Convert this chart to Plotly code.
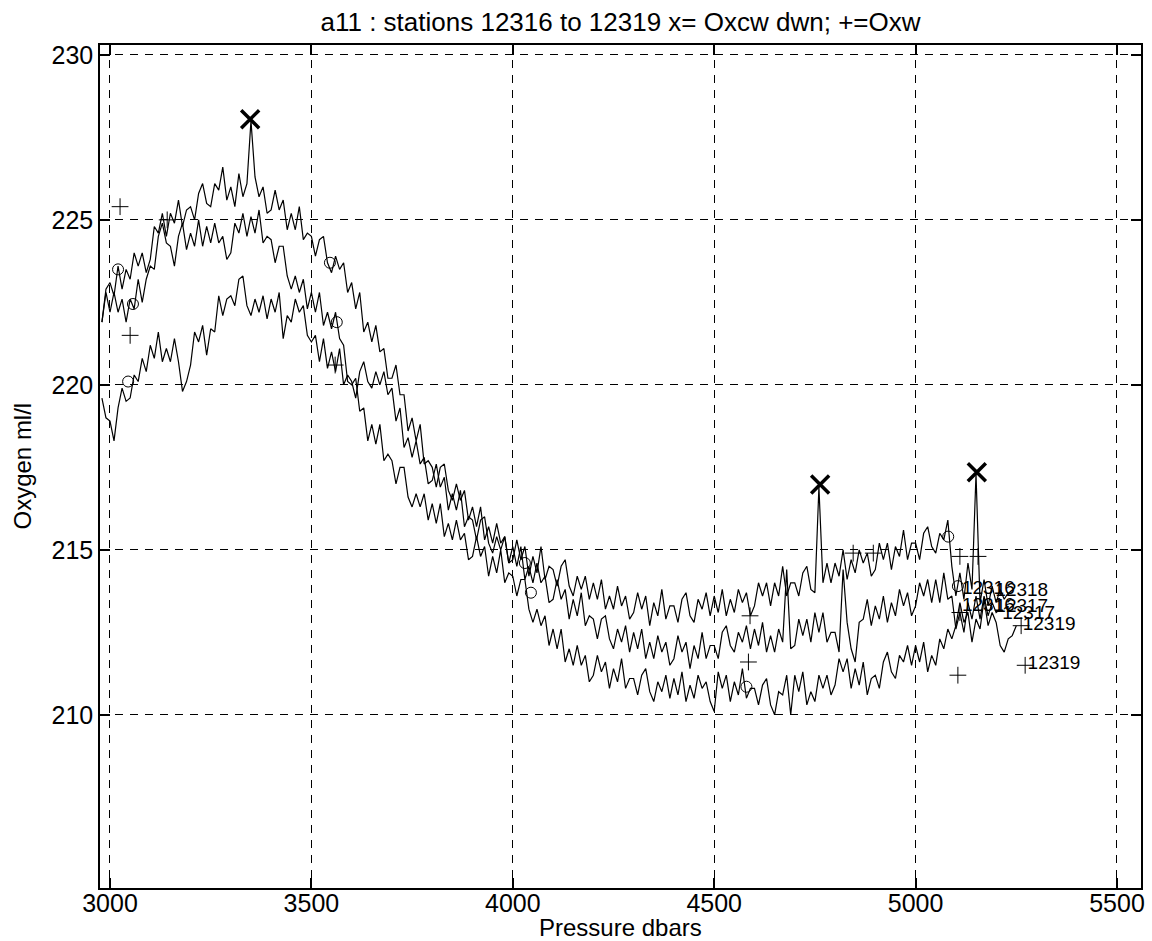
import plotly.graph_objects as go

# ---------------- data ----------------
pressure = list(range(2980, 5251, 10))  # dbar sampling grid

# station trace 1 (upper band, ends with label 12318)
oxy_a = [221.9, 222.9,
 223.1, 222.7, 223.6, 222.9, 223.5, 223.2, 224.0, 223.6, 224.0, 223.4,
 223.8, 224.8, 224.6, 225.2, 224.5, 225.2, 224.9, 225.6, 224.8, 225.3,
 225.4, 225.0, 225.8, 226.1, 225.5, 225.4, 226.1, 225.9, 226.6, 225.6,
 226.0, 225.4, 226.4, 225.7, 226.1, 228.0, 226.3, 225.7, 226.0, 225.2,
 225.3, 225.9, 225.3, 225.6, 224.7, 225.2, 224.7, 225.4, 224.4, 224.6,
 224.5, 223.9, 224.4, 224.5, 223.7, 223.4, 223.9, 223.5, 223.7, 222.8,
 223.1, 222.3, 222.8, 221.6, 221.9, 221.3, 221.8, 221.0, 221.1, 220.2,
 220.2, 220.6, 219.7, 219.7, 218.6, 219.0, 218.3, 218.8, 217.6, 217.7,
 217.5, 216.9, 217.5, 217.6, 216.8, 216.5, 217.0, 216.5, 216.8, 215.9,
 216.3, 215.7, 216.3, 215.3, 215.7, 215.2, 215.8, 215.2, 215.4, 214.6,
 214.7, 215.3, 214.7, 215.1, 214.2, 214.8, 214.3, 215.1, 214.1, 214.5,
 214.4, 213.9, 214.5, 214.7, 213.9, 213.6, 214.2, 213.8, 214.2, 213.5,
 214.0, 213.5, 214.1, 213.2, 213.6, 213.2, 213.9, 213.3, 213.6, 212.9,
 213.1, 213.7, 213.2, 213.6, 212.7, 213.4, 213.0, 213.8, 212.9, 213.3,
 213.3, 212.8, 213.5, 213.7, 213.0, 212.8, 213.5, 213.2, 213.7, 213.0,
 213.6, 213.1, 213.8, 213.0, 213.5, 213.1, 213.8, 213.4, 213.7, 213.0,
 213.3, 214.0, 213.6, 214.0, 213.3, 214.0, 213.6, 214.5, 213.6, 214.0,
 214.0, 213.6, 214.3, 214.5, 213.8, 213.7, 216.9, 214.0, 214.6, 214.0,
 214.6, 214.2, 215.0, 214.1, 214.7, 214.3, 215.0, 214.6, 214.9, 214.2,
 214.4, 215.2, 214.7, 215.2, 214.4, 215.1, 214.8, 215.6, 214.7, 215.2,
 215.2, 214.7, 215.5, 215.7, 215.1, 214.9, 215.5, 215.3, 215.9, 214.5,
 213.6, 214.3, 213.5, 214.6, 213.8, 217.3, 213.4, 214.1, 213.3, 213.9,
 213.4, 213.8, 213.5, 213.7, None, None]

# station trace 2 (middle early, lowest band later, ends with label 12319)
oxy_b = [221.9, 222.8,
 222.2, 222.8, 222.2, 222.6, 221.9, 222.6, 222.3, 223.2, 222.5, 223.2,
 223.6, 223.5, 224.5, 224.9, 224.3, 224.2, 223.6, 224.5, 224.9, 224.1,
 224.6, 224.2, 225.0, 224.2, 224.8, 224.3, 224.9, 224.3, 224.5, 223.8,
 224.0, 224.9, 224.6, 225.2, 224.5, 225.1, 224.6, 225.3, 224.3, 224.5,
 224.4, 223.7, 224.2, 224.2, 223.3, 222.9, 223.3, 222.8, 223.2, 222.3,
 222.8, 222.2, 222.8, 221.8, 222.2, 221.7, 222.2, 221.4, 221.2, 220.1,
 220.0, 220.2, 219.2, 219.3, 218.3, 218.8, 218.2, 218.8, 217.7, 217.9,
 217.7, 217.0, 217.5, 217.5, 216.6, 216.3, 216.7, 216.3, 216.7, 215.9,
 216.4, 215.8, 216.4, 215.4, 215.8, 215.3, 215.9, 215.3, 215.5, 214.7,
 214.8, 215.4, 214.8, 215.1, 214.2, 214.8, 214.3, 215.0, 214.0, 214.3,
 214.2, 213.6, 214.1, 214.1, 213.2, 212.8, 213.2, 212.7, 213.0, 212.1,
 212.6, 212.0, 212.6, 211.6, 212.0, 211.5, 212.1, 211.5, 211.8, 211.0,
 211.2, 211.8, 211.3, 211.6, 210.8, 211.4, 211.0, 211.7, 210.8, 211.1,
 211.1, 210.6, 211.2, 211.4, 210.7, 210.4, 211.0, 210.7, 211.2, 210.5,
 211.1, 210.6, 211.3, 210.4, 210.9, 210.5, 211.2, 210.8, 211.0, 210.4,
 210.1, 211.3, 210.8, 211.2, 210.4, 211.0, 210.6, 211.4, 210.5, 210.8,
 210.8, 210.3, 210.9, 211.1, 210.3, 210.0, 210.7, 210.6, 211.2, 210.0,
 211.2, 210.7, 211.3, 210.3, 210.7, 210.4, 211.2, 210.8, 211.2, 210.6,
 210.9, 211.7, 211.3, 211.7, 210.8, 211.4, 210.9, 211.6, 210.6, 211.1,
 211.2, 210.8, 211.6, 211.9, 211.3, 211.1, 211.8, 211.6, 212.1, 211.5,
 212.1, 211.6, 212.2, 211.3, 211.8, 211.5, 212.3, 212.0, 212.6, 212.3,
 212.7, 213.4, 212.8, 213.1, 212.2, 212.9, 212.6, 213.5, 212.7, 213.1,
 212.8, 212.1, 211.9, 212.3, 212.4, 212.7]

# station trace 3 (lowest early, middle band later, ends with label 12317)
oxy_c = [219.6, 219.0,
 218.9, 218.3, 219.3, 219.9, 219.5, 219.6, 220.3, 220.1, 220.8, 220.4,
 221.2, 220.8, 221.6, 220.7, 221.1, 220.7, 221.4, 220.7, 219.8, 220.1,
 220.6, 221.6, 221.3, 221.8, 220.9, 221.7, 221.6, 222.7, 222.1, 222.6,
 222.7, 222.4, 223.2, 223.3, 222.4, 222.1, 222.6, 222.2, 222.7, 222.0,
 222.6, 222.2, 222.8, 221.4, 222.1, 221.9, 222.6, 222.2, 222.4, 221.5,
 221.3, 221.5, 220.7, 221.4, 220.5, 221.0, 220.4, 221.1, 220.0, 220.3,
 220.1, 219.6, 220.4, 220.7, 220.1, 219.9, 220.4, 220.0, 220.4, 219.7,
 219.9, 218.9, 219.3, 218.1, 218.4, 217.8, 218.3, 217.6, 217.8, 217.0,
 217.1, 217.6, 216.9, 217.2, 216.2, 216.7, 216.2, 216.8, 215.7, 216.0,
 215.9, 215.3, 215.9, 216.0, 215.2, 214.9, 215.4, 215.0, 215.4, 214.6,
 215.1, 214.5, 215.1, 214.1, 214.5, 214.0, 214.6, 214.0, 214.2, 213.4,
 213.5, 214.1, 213.5, 213.8, 212.9, 213.5, 213.0, 213.7, 212.7, 213.0,
 212.9, 212.3, 212.9, 213.0, 212.3, 212.0, 212.6, 212.2, 212.7, 211.9,
 212.5, 212.0, 212.6, 211.7, 212.2, 211.7, 212.4, 211.9, 212.2, 211.5,
 211.7, 212.4, 211.9, 212.2, 211.4, 212.1, 211.7, 212.5, 211.7, 212.1,
 212.1, 211.7, 212.5, 212.7, 212.1, 211.9, 212.5, 212.2, 212.7, 212.0,
 212.6, 212.1, 212.8, 211.9, 212.4, 211.9, 212.6, 212.2, 214.4, 212.0,
 212.1, 212.9, 212.4, 212.9, 212.2, 213.1, 212.5, 213.1, 212.2, 212.5,
 212.5, 211.9, 214.4, 212.8, 212.0, 211.6, 212.8, 212.9, 213.5, 212.7,
 213.3, 212.9, 213.6, 212.8, 213.4, 213.0, 213.8, 213.3, 213.7, 213.0,
 213.3, 214.0, 213.6, 214.1, 213.4, 214.1, 213.4, 214.3, 213.5, 213.6,
 212.6, 213.1, 212.5, 213.4, 212.9, 213.6, 212.9, 213.6, 213.0, 213.4,
 213.1, 213.2, None, None, None, None]

# x = Oxcw downcast outliers
oxcw_p = [3348, 4763, 5152]
oxcw_v = [228.05, 216.98, 217.35]

# + = Oxw bottle values
oxw_p = [3025, 3050, 3142, 3559, 4585, 4589, 4845, 4895, 5105, 5110, 5110, 5155, 5262, 5272]
oxw_v = [225.4, 221.5, 225.0, 220.6, 211.6, 213.0, 214.9, 214.9, 211.2, 214.8, 213.1, 214.8, 212.7, 211.5]

# o markers
circ_p = [3020, 3045, 3057, 3546, 3563, 4030, 4045, 4580, 5081, 5105]
circ_v = [223.5, 220.1, 222.45, 223.7, 221.9, 214.6, 213.7, 210.85, 215.4, 213.9]

# station labels
lab_p = [5115, 5198, 5115, 5198, 5215, 5266, 5278]
lab_v = [213.8, 213.75, 213.3, 213.25, 213.05, 212.72, 211.52]
lab_t = ["12316", "12318", "12316", "12317", "12317", "12319", "12319"]

x_ticks = [3000, 3500, 4000, 4500, 5000, 5500]
y_ticks = [210, 215, 220, 225, 230]

FONT = "Liberation Sans, Arial, Helvetica, sans-serif"

# ---------------- figure ----------------
fig = go.Figure()
for name, vals in (("12318", oxy_a), ("12319", oxy_b), ("12317", oxy_c)):
    fig.add_trace(go.Scatter(x=pressure, y=vals, mode="lines", name=name,
                             line=dict(color="black", width=1.2),
                             connectgaps=False, showlegend=False))

fig.add_trace(go.Scatter(x=circ_p, y=circ_v, mode="markers", showlegend=False,
                         marker=dict(symbol="circle-open", size=11,
                                     color="black", line=dict(width=1))))
fig.add_trace(go.Scatter(x=oxw_p, y=oxw_v, mode="markers", showlegend=False,
                         marker=dict(symbol="cross-thin", size=12,
                                     color="black", line=dict(width=1, color="black"))))
fig.add_trace(go.Scatter(x=oxcw_p, y=oxcw_v, mode="markers", showlegend=False,
                         marker=dict(symbol="x-thin", size=18,
                                     color="black", line=dict(width=3.5, color="black"))))
fig.add_trace(go.Scatter(x=lab_p, y=lab_v, mode="text", text=lab_t,
                         textposition="middle right", showlegend=False,
                         textfont=dict(family=FONT, size=19, color="black")))

axis_common = dict(
    showgrid=True, gridcolor="black", gridwidth=1, griddash="8px,7px",
    showline=True, linecolor="black", linewidth=1.5, mirror="ticks",
    ticks="inside", ticklen=10, tickwidth=1.5, tickcolor="black",
    zeroline=False, automargin=False,
    tickfont=dict(family=FONT, size=25, color="black"),
)

fig.update_layout(
    width=1152, height=941,
    margin=dict(l=100, r=11, t=45, b=53),
    paper_bgcolor="white", plot_bgcolor="white",
    title=dict(text="a11 : stations 12316 to 12319 x= Oxcw dwn; +=Oxw",
               x=0.5, xref="paper", xanchor="center",
               y=1 - 22 / 941, yref="container", yanchor="middle",
               font=dict(family=FONT, size=26, color="black")),
    xaxis=dict(range=[2975.2, 5559.6], tickvals=x_ticks,
               ticklabelstandoff=-8, **axis_common),
    yaxis=dict(range=[204.75, 230.3], tickvals=y_ticks, **axis_common),
    annotations=[
        dict(text="Pressure dbars", x=0.5, y=-(927 - 888) / 843,
             xref="paper", yref="paper", xanchor="center", yanchor="middle",
             showarrow=False, font=dict(family=FONT, size=24, color="black")),
        dict(text="Oxygen ml/l", x=(22 - 100) / 1041, y=0.5, textangle=-90,
             xref="paper", yref="paper", xanchor="center", yanchor="middle",
             showarrow=False, font=dict(family=FONT, size=24, color="black")),
    ],
)

# remove the default page margin so the figure starts at the window corner
fig.write_html("out.html", config={"displayModeBar": False},
               post_script="document.body.style.margin='0px';"
                           "document.body.style.overflow='hidden';")
